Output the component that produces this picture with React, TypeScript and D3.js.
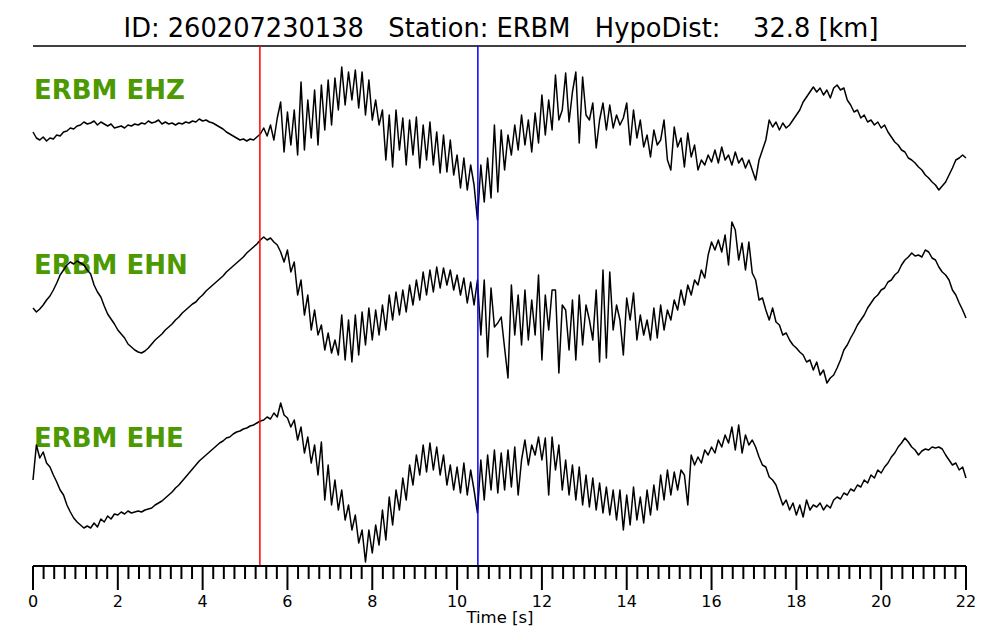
import React from 'react';
import * as d3 from 'd3';

// sampling interval of the traces [s]
const DT = 0.08;

// amplitudes (arbitrary counts), one value every DT seconds
const ehz = [
  -2, -8, -10, -7, -11, -8, -9, -5, -6, -2,
  -1, 2, 1, 4, 5, 8, 6, 7, 9, 5,
  8, 6, 4, 6, 2, 3, 4, 2, 5, 4,
  6, 5, 7, 6, 9, 7, 8, 10, 6, 8,
  6, 7, 5, 7, 6, 8, 7, 9, 8, 11,
  9, 10, 8, 7, 5, 3, 1, -2, -4, -6,
  -8, -10, -9, -11, -9, -10, -7, -4, 2, -6,
  5, -10, 12, 28, -22, 18, -15, 20, -25, 48,
  -20, 30, -8, 40, -15, 45, 0, 50, 5, 52,
  20, 63, 25, 58, 30, 60, 22, 58, 15, 50,
  10, 30, 5, 20, -30, 15, -37, 20, -20, 12,
  -35, 10, -25, 13, -38, 5, -30, 8, -35, -2,
  -43, -5, -42, -10, -45, -25, -58, -28, -60, -35,
  -55, -90, -35, -72, -28, -68, 5, -62, 0, -40,
  -5, -25, 5, -20, 15, -15, 10, -22, 17, -13,
  35, -5, 30, 0, 55, 10, 20, 57, 8, 38,
  58, -13, 53, 15, 10, 27, -18, 10, 27, 0,
  25, 2, 15, 5, 12, 27, -15, 20, -8, 10,
  -17, -5, -27, 0, -15, -10, 10, -30, -40, 3,
  -17, -8, -37, -3, -27, -15, -40, -30, -35, -25,
  -32, -20, -33, -17, -30, -25, -35, -22, -33, -28,
  -38, -30, -40, -50, -30, -20, -10, 10, 3, 8,
  0, 7, 2, 5, 10, 15, 20, 28, 33, 38,
  43, 38, 42, 35, 40, 32, 42, 45, 40, 42,
  30, 25, 18, 20, 12, 15, 8, 10, 5, 8,
  2, 5, -2, -7, -12, -15, -20, -22, -28, -30,
  -33, -37, -40, -45, -48, -52, -55, -60, -56, -52,
  -45, -38, -30, -28, -25, -28,
];

const ehn = [
  -8, -12, -9, -5, 0, 4, 10, 17, 25, 30,
  35, 38, 36, 39, 37, 35, 30, 26, 15, 8,
  3, -6, -14, -19, -24, -30, -34, -38, -44, -47,
  -50, -52, -53, -51, -48, -44, -40, -37, -34, -30,
  -27, -24, -20, -17, -13, -10, -7, -4, -2, 2,
  5, 9, 12, 15, 18, 21, 24, 28, 31, 34,
  37, 40, 43, 47, 50, 53, 56, 60, 63, 60,
  62, 58, 55, 48, 38, 50, 28, 38, 5, 20,
  -15, 5, -30, -10, -35, -25, -50, -33, -53, -40,
  -55, -15, -60, -20, -62, -15, -55, -12, -45, -8,
  -40, -10, -35, -5, -30, 5, -20, 8, -15, 10,
  -12, 15, -5, 20, 0, 28, 5, 30, 8, 33,
  12, 32, 15, 30, 10, 25, 5, 22, -3, 18,
  -5, 20, -35, 20, -57, 12, -27, -23, -17, -48,
  -78, 15, -35, 5, -45, 10, -40, 0, -35, 25,
  -60, 5, -30, 10, 10, -73, -5, -10, -50, 0,
  -60, 5, -45, -5, -20, -40, 10, -62, 30, -58,
  28, -30, -5, -20, -55, 2, -20, 7, -40, -15,
  -35, -20, -40, -8, -38, -5, -30, -10, -20, 0,
  -10, 10, -5, 15, 5, 20, 15, 30, 22, 45,
  58, 50, 60, 48, 65, 35, 78, 70, 40, 57,
  30, 58, 27, 20, 0, 2, -10, -20, -8, -22,
  -25, -35, -33, -40, -45, -48, -52, -55, -62, -60,
  -70, -62, -75, -70, -83, -78, -75, -68, -60, -50,
  -45, -38, -32, -25, -20, -15, -8, -3, 2, 5,
  10, 12, 18, 20, 25, 28, 35, 40, 43, 47,
  44, 45, 43, 50, 48, 42, 40, 33, 28, 25,
  20, 10, 5, -3, -10, -18,
];

const ehe = [
  -5, 30, 17, 23, 12, 8, 0, -7, -15, -20,
  -30, -37, -43, -47, -50, -53, -51, -53, -48, -52,
  -44, -47, -41, -44, -39, -40, -37, -39, -36, -38,
  -37, -36, -37, -35, -34, -33, -30, -28, -26, -23,
  -20, -17, -13, -10, -6, -2, 2, 6, 10, 14,
  17, 20, 23, 26, 29, 32, 34, 37, 38, 41,
  43, 44, 46, 47, 49, 50, 52, 54, 55, 58,
  56, 62, 58, 72, 60, 57, 48, 55, 35, 48,
  22, 38, 12, 30, 0, 33, -25, 10, -30, -5,
  -35, -15, -45, -30, -55, -40, -68, -55, -87, -55,
  -78, -50, -70, -35, -65, -22, -50, -15, -35, -3,
  -25, 10, -10, 20, 0, 30, 3, 32, 5, 28,
  0, 20, -10, 10, -15, 8, -18, 12, -20, 5,
  -15, -38, 15, -25, 20, -15, 25, -18, 22, -15,
  25, -12, 28, -20, 15, 35, 10, 30, 20, 38,
  15, 37, -20, 38, 5, 30, -15, 15, -20, 10,
  -25, 8, -30, 0, -32, -3, -35, -8, -38, -12,
  -40, -15, -45, -15, -55, -20, -50, -12, -45, -22,
  -48, -15, -40, -10, -35, 0, -25, 5, -20, 3,
  -15, 5, 0, -30, 20, 10, 18, 12, 25, 20,
  28, 22, 35, 28, 40, 32, 48, 25, 50, 22,
  40, 30, 35, 28, 18, 10, 8, -2, -5, -10,
  -20, -30, -25, -35, -28, -40, -30, -42, -25, -35,
  -30, -32, -28, -35, -30, -33, -25, -22, -24, -18,
  -20, -14, -16, -10, -12, -5, -8, 0, -3, 5,
  2, 8, 12, 18, 22, 28, 32, 37, 33, 28,
  25, 20, 24, 26, 25, 28, 27, 28, 26, 20,
  15, 10, 12, 5, 8, -3,
];

const channelNames = ['ERBM EHZ', 'ERBM EHN', 'ERBM EHE'];
const pPick = 5.35;
const sPick = 10.49;
const majorTicks = [0, 2, 4, 6, 8, 10, 12, 14, 16, 18, 20, 22];
const minorStep = 0.25;
const titleText = 'ID: 260207230138   Station: ERBM   HypoDist:    32.8 [km]';
const xLabel = 'Time [s]';

export default function App() {
  const W = 1000;
  const H = 640;
  const left = 33;
  const right = 966;
  const axisY = 566;
  const topY = 46;
  const x = d3.scaleLinear().domain([0, 22]).range([left, right]);
  const traces = [ehz, ehn, ehe];
  const bases = [130, 300, 475];
  const labelY = [99, 274, 447];
  const minor = d3
    .range(0, 22 + 1e-9, minorStep)
    .filter((v) => Math.abs(v / 2 - Math.round(v / 2)) > 1e-6);
  const font = '"DejaVu Sans", sans-serif';

  return (
    <svg
      width={W}
      height={H}
      style={{ position: 'absolute', left: 0, top: 0, background: '#fff' }}
      fontFamily={font}
    >
      <rect x={0} y={0} width={W} height={H} fill="#fff" />
      <text
        x={501}
        y={37}
        textAnchor="middle"
        fontSize={25.7}
        fill="#000"
        xmlSpace="preserve"
        style={{ whiteSpace: 'pre' }}
      >
        {titleText}
      </text>
      <line x1={left} x2={right} y1={topY} y2={topY} stroke="#000" strokeWidth={1.5} />

      {channelNames.map((name, k) => (
        <text
          key={name}
          x={34}
          y={labelY[k]}
          fontSize={26}
          fontWeight="bold"
          fill="#4c9900"
        >
          {name}
        </text>
      ))}

      {traces.map((vals, k) => {
        const b = bases[k];
        const y = d3.scaleLinear().domain([-100, 100]).range([b + 100, b - 100]);
        const line = d3
          .line<number>()
          .x((_, i) => x(i * DT))
          .y((v) => y(v));
        return (
          <path
            key={k}
            d={line(vals) || ''}
            fill="none"
            stroke="#000"
            strokeWidth={1.5}
            strokeLinejoin="round"
          />
        );
      })}

      <line x1={x(pPick)} x2={x(pPick)} y1={topY} y2={axisY} stroke="#ff0000" strokeWidth={1.5} />
      <line x1={x(sPick)} x2={x(sPick)} y1={topY} y2={axisY} stroke="#0000ff" strokeWidth={1.5} />

      <line x1={left} x2={right} y1={axisY} y2={axisY} stroke="#000" strokeWidth={2} />
      {minor.map((v) => (
        <line key={'m' + v} x1={x(v)} x2={x(v)} y1={axisY} y2={axisY + 13} stroke="#000" strokeWidth={2} />
      ))}
      {majorTicks.map((v) => (
        <g key={'M' + v}>
          <line x1={x(v)} x2={x(v)} y1={axisY} y2={axisY + 24} stroke="#000" strokeWidth={2} />
          <text x={x(v)} y={607} textAnchor="middle" fontSize={16} fill="#000">
            {v}
          </text>
        </g>
      ))}
      <text x={500} y={623} textAnchor="middle" fontSize={16.5} fill="#000">
        {xLabel}
      </text>
    </svg>
  );
}
